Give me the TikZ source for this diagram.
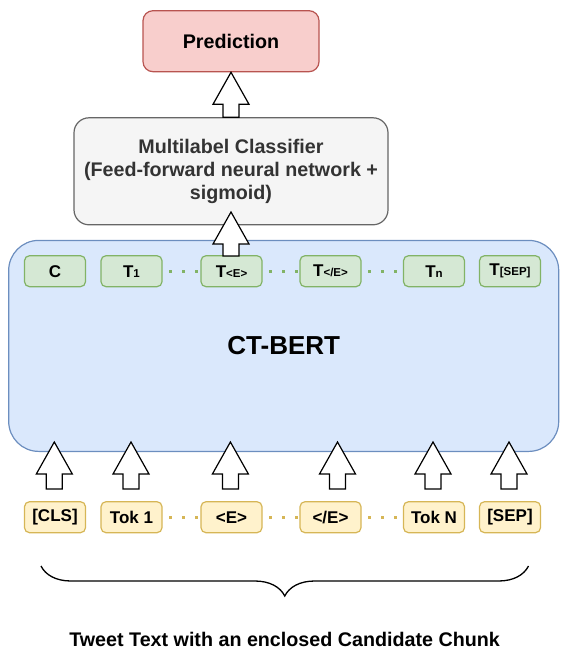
\documentclass[tikz,border=0pt]{standalone}
\usepackage{fontspec}
\setmainfont{Liberation Sans}
\usetikzlibrary{shapes,arrows,calc,decorations.pathreplacing}
\definecolor{predfill}{HTML}{F8CECC}
\definecolor{predline}{HTML}{B85450}
\definecolor{clffill}{HTML}{F5F5F5}
\definecolor{clfline}{HTML}{666666}
\definecolor{clftext}{HTML}{333333}
\definecolor{bertfill}{HTML}{DAE8FC}
\definecolor{bertline}{HTML}{6C8EBF}
\definecolor{embfill}{HTML}{D5E8D4}
\definecolor{embline}{HTML}{82B366}
\definecolor{tokfill}{HTML}{FFF2CC}
\definecolor{tokline}{HTML}{D6B656}
\newcommand{\labtxt}{\fontsize{19.7}{23.3}\selectfont\bfseries}
\newcommand{\toktxt}{\fontsize{17}{20}\selectfont\bfseries}
\newcommand{\tsub}[1]{{\fontsize{11.5}{12}\selectfont #1}}
\tikzset{
	outbox/.style  = {draw=predline, fill=predfill, line width=1.2pt, rounded corners=10pt,
		minimum width=176pt, minimum height=61pt, font=\labtxt},
	clfbox/.style  = {draw=clfline, fill=clffill, line width=1.2pt, rounded corners=15pt,
		minimum width=314pt, minimum height=107pt, align=center, text=clftext, font=\labtxt},
	bertbox/.style = {draw=bertline, fill=bertfill, line width=1.2pt, rounded corners=30pt,
		minimum width=550pt, minimum height=211pt, font=\fontsize{26}{30}\selectfont\bfseries},
	embed/.style   = {draw=embline, fill=embfill, line width=1.2pt, rounded corners=5pt,
		minimum width=61pt, minimum height=31pt, inner sep=0pt, font=\toktxt},
	token/.style   = {draw=tokline, fill=tokfill, line width=1.2pt, rounded corners=5pt,
		minimum width=61pt, minimum height=31pt, inner sep=0pt, font=\toktxt},
	fat/.style     = {draw=black, fill=white, line width=1.2pt, line join=miter},
	gdots/.style   = {draw=embline, line width=2.6pt, dash pattern=on 2.6pt off 10.4pt, dash phase=6.6pt},
	ydots/.style   = {draw=tokline, line width=2.6pt, dash pattern=on 2.6pt off 10.4pt, dash phase=6.6pt}
}
% hollow block arrow pointing up, from #1 (foot) to #2 (tip)
\newcommand{\fatup}[2]{%
	\draw[fat] let \p1=(#1), \p2=(#2) in
	(\x1-8pt,\y1) -- (\x1-8pt,\y2-32pt) -- (\x1-18pt,\y2-32pt) -- (\x2,\y2)
	-- (\x1+18pt,\y2-32pt) -- (\x1+8pt,\y2-32pt) -- (\x1+8pt,\y1) -- cycle;}

\begin{document}
\begin{tikzpicture}[x=1pt, y=-1pt, >=latex]
\useasboundingbox (0,0) rectangle (560,650);
\draw
% top blocks
node at (231,41.2)[outbox] (pred) {Prediction}
node at (231,171.3)[clfbox] (clf) {Multilabel Classifier\\(Feed-forward neural network +\\sigmoid)}
node at (283.7,345.9)[bertbox] (bert) {CT-BERT};

\draw
% output embeddings of the encoder
node at (55,271.2)[embed] (ec) {C}
node at (131.5,271.2)[embed] (e1) {T\tsub{1}}
node at (231.5,271.2)[embed] (ee) {T\tsub{<E>}}
node at (330.5,271.2)[embed] (eend) {T\tsub{</E>}}
node at (434,271.2)[embed] (en) {T\tsub{n}}
node at (510,271.2)[embed] (esep) {T\tsub{[SEP]}}
% input tokens
node at (55,517.2)[token] (tcls) {[CLS]}
node at (131.5,517.2)[token] (t1) {Tok 1}
node at (231.5,517.2)[token] (te) {<E>}
node at (330.5,517.2)[token] (tend) {</E>}
node at (434,517.2)[token] (tn) {Tok N}
node at (510,517.2)[token] (tsep) {[SEP]};

\draw[gdots] (e1) -- (ee);
\draw[gdots] (ee) -- (eend);
\draw[gdots] (eend) -- (en);
\draw[ydots] (t1) -- (te);
\draw[ydots] (te) -- (tend);
\draw[ydots] (tend) -- (tn);

% block arrows
\coordinate (m0) at (231,256);
\coordinate (m1) at (231,212);
\fatup{clf.north}{pred.south}
\fatup{m0}{m1}

\coordinate (a1) at (54.3,489);  \coordinate (b1) at (54.3,442);
\coordinate (a2) at (131,489);   \coordinate (b2) at (131,442);
\coordinate (a3) at (230.4,489); \coordinate (b3) at (230.4,442);
\coordinate (a4) at (337.5,489); \coordinate (b4) at (337.5,442);
\coordinate (a5) at (433,489);   \coordinate (b5) at (433,442);
\coordinate (a6) at (509,489);   \coordinate (b6) at (509,442);
\fatup{a1}{b1}
\fatup{a2}{b2}
\fatup{a3}{b3}
\fatup{a4}{b4}
\fatup{a5}{b5}
\fatup{a6}{b6}

% brace and caption
\coordinate (bl) at (41,566);
\coordinate (br) at (528.5,566);
\draw[line width=1.3pt, decorate, decoration={brace, mirror, amplitude=30pt}] (bl) -- (br);
\node[font=\labtxt, anchor=base] (cap) at (284.6,646.5) {Tweet Text with an enclosed Candidate Chunk};
\end{tikzpicture}
\end{document}
